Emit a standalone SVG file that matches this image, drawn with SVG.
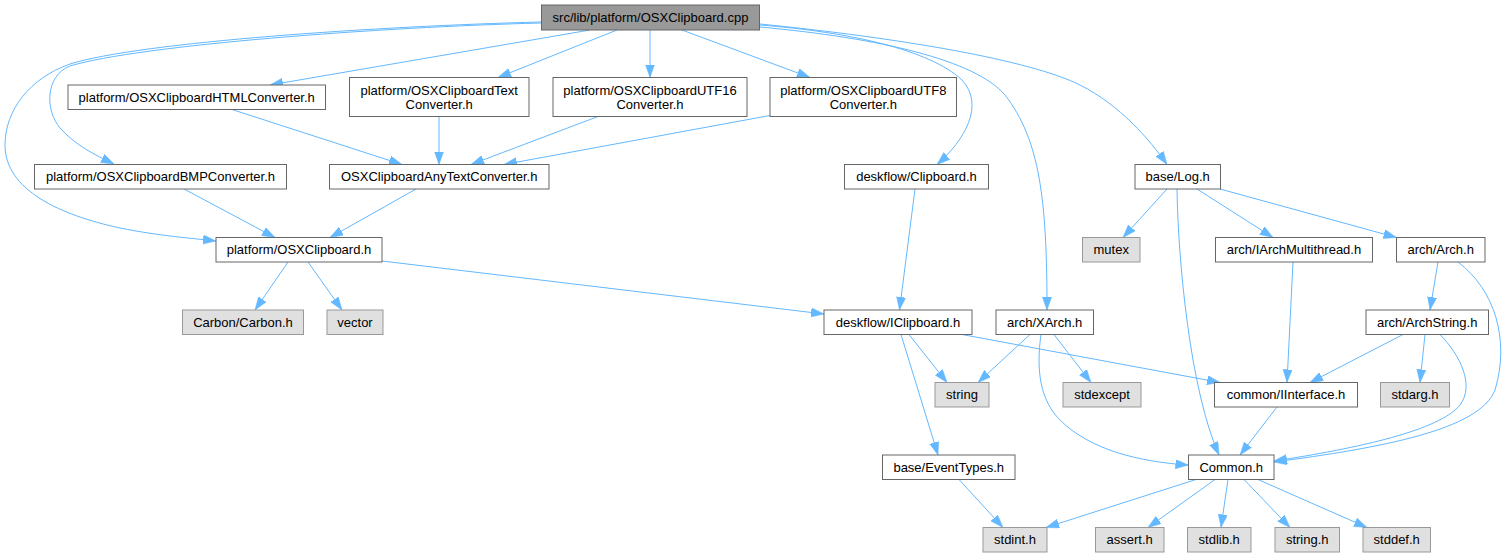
<svg xmlns="http://www.w3.org/2000/svg" width="1510" height="558" viewBox="0 0 1510 558">
<style>
.n rect{fill:#fff;stroke:#666;stroke-width:1}
.s rect{fill:#e0e0e0;stroke:#999;stroke-width:1}
.r rect{fill:#999;stroke:#666;stroke-width:1}
text{font-family:"Liberation Sans",Arial,sans-serif;font-size:13px;fill:#000;text-anchor:middle}
#edges path{fill:none;stroke:#63b8ff;stroke-width:1;marker-end:url(#ah)}
</style>
<defs>
<marker id="ah" markerUnits="userSpaceOnUse" markerWidth="14" markerHeight="10" refX="13" refY="4.6" orient="auto">
<path d="M0,0 L13,4.6 L0,9.2 z" fill="#63b8ff" stroke="#63b8ff" stroke-width="0.5"/>
</marker>
</defs>
<rect width="1510" height="558" fill="#fff"/>
<g id="edges">
<path d="M541,22 C380,26 140,42 70,64 C30,78 5,110 5,145 C5,190 60,215 120,228 C160,236 190,238 216,241"/>
<path d="M541,23 C380,27 140,45 70,66 C45,76 45,110 60,128 C75,145 95,155 114,164"/>
<path d="M590,30 L270,85"/>
<path d="M617,30 L498,77.5"/>
<path d="M650,30 L650,77.5"/>
<path d="M682,30 L810,77.5"/>
<path d="M760,25 C850,32 930,50 962,80 C985,105 965,140 937,164.5"/>
<path d="M760,27 C880,38 975,60 1005,95 C1040,140 1047,200 1047,310"/>
<path d="M760,24 C900,38 1030,60 1080,85 C1120,105 1150,140 1167,164.5"/>
<path d="M232,109.5 L402,164.5"/>
<path d="M439,116.5 L439,164.5"/>
<path d="M598,116.5 L471,164.5"/>
<path d="M770,115.5 L504,164.5"/>
<path d="M184,189 L275,237.5"/>
<path d="M416,189 L330,237.5"/>
<path d="M288,262 L255,310"/>
<path d="M308,262 L342,310"/>
<path d="M382,261 L824,314"/>
<path d="M915,189 L899.5,310"/>
<path d="M909,334.5 L947,382.5"/>
<path d="M962,334.5 L1220,382.5"/>
<path d="M901,334.5 L938,455"/>
<path d="M1030,334.5 L978,382.5"/>
<path d="M1054,334.5 L1091,382.5"/>
<path d="M1041,334.5 C1036,370 1040,400 1060,420 C1090,450 1140,462 1188.5,465"/>
<path d="M959,479.5 L1003,527.5"/>
<path d="M1196,479.5 L1046,527.5"/>
<path d="M1215,479.5 L1148,527.5"/>
<path d="M1228,479.5 L1221,527.5"/>
<path d="M1244,479.5 L1290,527.5"/>
<path d="M1258,479.5 L1367,527.5"/>
<path d="M1277,407 L1240,455"/>
<path d="M1167,189 L1123,237.5"/>
<path d="M1177,189 C1178,260 1190,390 1219,455"/>
<path d="M1197,189 L1273,237.5"/>
<path d="M1220,189 L1396.5,237.5"/>
<path d="M1293,262 L1287,382.5"/>
<path d="M1438,262 L1430,310"/>
<path d="M1458,262 C1495,290 1510,340 1495,390 C1480,430 1380,448 1274,462"/>
<path d="M1403,334.5 L1310,382.5"/>
<path d="M1425,334.5 L1420,382.5"/>
<path d="M1440,334.5 C1460,355 1475,385 1460,405 C1440,430 1360,448 1274,461"/>
</g>
<g id="root" class="r"><rect x="541.5" y="5" width="218" height="25"/><text x="650.5" y="22">src/lib/platform/OSXClipboard.cpp</text></g>
<g id="html" class="n"><rect x="68" y="85" width="257.5" height="24.5"/><text x="196.7" y="101.5">platform/OSXClipboardHTMLConverter.h</text></g>
<g id="textconv" class="n"><rect x="349.5" y="77.5" width="179.5" height="39"/><text x="439.2" y="94.5">platform/OSXClipboardText</text><text x="439.2" y="108.5">Converter.h</text></g>
<g id="utf16" class="n"><rect x="553" y="77.5" width="194" height="39"/><text x="650" y="94.5">platform/OSXClipboardUTF16</text><text x="650" y="108.5">Converter.h</text></g>
<g id="utf8" class="n"><rect x="770" y="77.5" width="186.5" height="39"/><text x="863.3" y="94.5">platform/OSXClipboardUTF8</text><text x="863.3" y="108.5">Converter.h</text></g>
<g id="bmp" class="n"><rect x="34.5" y="164.5" width="252" height="24.5"/><text x="160.5" y="181">platform/OSXClipboardBMPConverter.h</text></g>
<g id="anytext" class="n"><rect x="329.5" y="164.5" width="219.5" height="24.5"/><text x="439.2" y="181">OSXClipboardAnyTextConverter.h</text></g>
<g id="clipboard" class="n"><rect x="844.5" y="164.5" width="144" height="24.5"/><text x="916.5" y="181">deskflow/Clipboard.h</text></g>
<g id="log" class="n"><rect x="1135" y="164.5" width="85.5" height="24.5"/><text x="1177.7" y="181">base/Log.h</text></g>
<g id="osxclipboard" class="n"><rect x="216" y="237.5" width="166" height="24.5"/><text x="299" y="254">platform/OSXClipboard.h</text></g>
<g id="mutex" class="s"><rect x="1082.5" y="237.5" width="57.5" height="24.5"/><text x="1111.2" y="254">mutex</text></g>
<g id="iarchmt" class="n"><rect x="1215.5" y="237.5" width="157" height="24.5"/><text x="1294" y="254">arch/IArchMultithread.h</text></g>
<g id="arch" class="n"><rect x="1396.5" y="237.5" width="88.5" height="24.5"/><text x="1440.7" y="254">arch/Arch.h</text></g>
<g id="carbon" class="s"><rect x="182.5" y="310" width="121" height="24.5"/><text x="243" y="326.5">Carbon/Carbon.h</text></g>
<g id="vector" class="s"><rect x="327" y="310" width="56" height="24.5"/><text x="355" y="326.5">vector</text></g>
<g id="iclipboard" class="n"><rect x="824" y="310" width="148" height="24.5"/><text x="898" y="326.5">deskflow/IClipboard.h</text></g>
<g id="xarch" class="n"><rect x="996" y="310" width="97.5" height="24.5"/><text x="1044.7" y="326.5">arch/XArch.h</text></g>
<g id="archstring" class="n"><rect x="1366" y="310" width="122.5" height="24.5"/><text x="1427.2" y="326.5">arch/ArchString.h</text></g>
<g id="string" class="s"><rect x="935" y="382.5" width="54" height="24.5"/><text x="962" y="399">string</text></g>
<g id="stdexcept" class="s"><rect x="1063" y="382.5" width="78" height="24.5"/><text x="1102" y="399">stdexcept</text></g>
<g id="iinterface" class="n"><rect x="1214.5" y="382.5" width="143" height="24.5"/><text x="1286" y="399">common/IInterface.h</text></g>
<g id="stdarg" class="s"><rect x="1380.5" y="382.5" width="69" height="24.5"/><text x="1415" y="399">stdarg.h</text></g>
<g id="eventtypes" class="n"><rect x="882.5" y="455" width="132.5" height="24.5"/><text x="948.7" y="471.5">base/EventTypes.h</text></g>
<g id="common" class="n"><rect x="1188.5" y="455" width="85.5" height="24.5"/><text x="1231.2" y="471.5">Common.h</text></g>
<g id="stdint" class="s"><rect x="983" y="527.5" width="64" height="24.5"/><text x="1015" y="544">stdint.h</text></g>
<g id="assert" class="s"><rect x="1095.5" y="527.5" width="68.5" height="24.5"/><text x="1129.7" y="544">assert.h</text></g>
<g id="stdlib" class="s"><rect x="1187.5" y="527.5" width="63.5" height="24.5"/><text x="1219.2" y="544">stdlib.h</text></g>
<g id="stringh" class="s"><rect x="1275" y="527.5" width="64.5" height="24.5"/><text x="1307.2" y="544">string.h</text></g>
<g id="stddef" class="s"><rect x="1363" y="527.5" width="67.5" height="24.5"/><text x="1396.7" y="544">stddef.h</text></g>
</svg>
